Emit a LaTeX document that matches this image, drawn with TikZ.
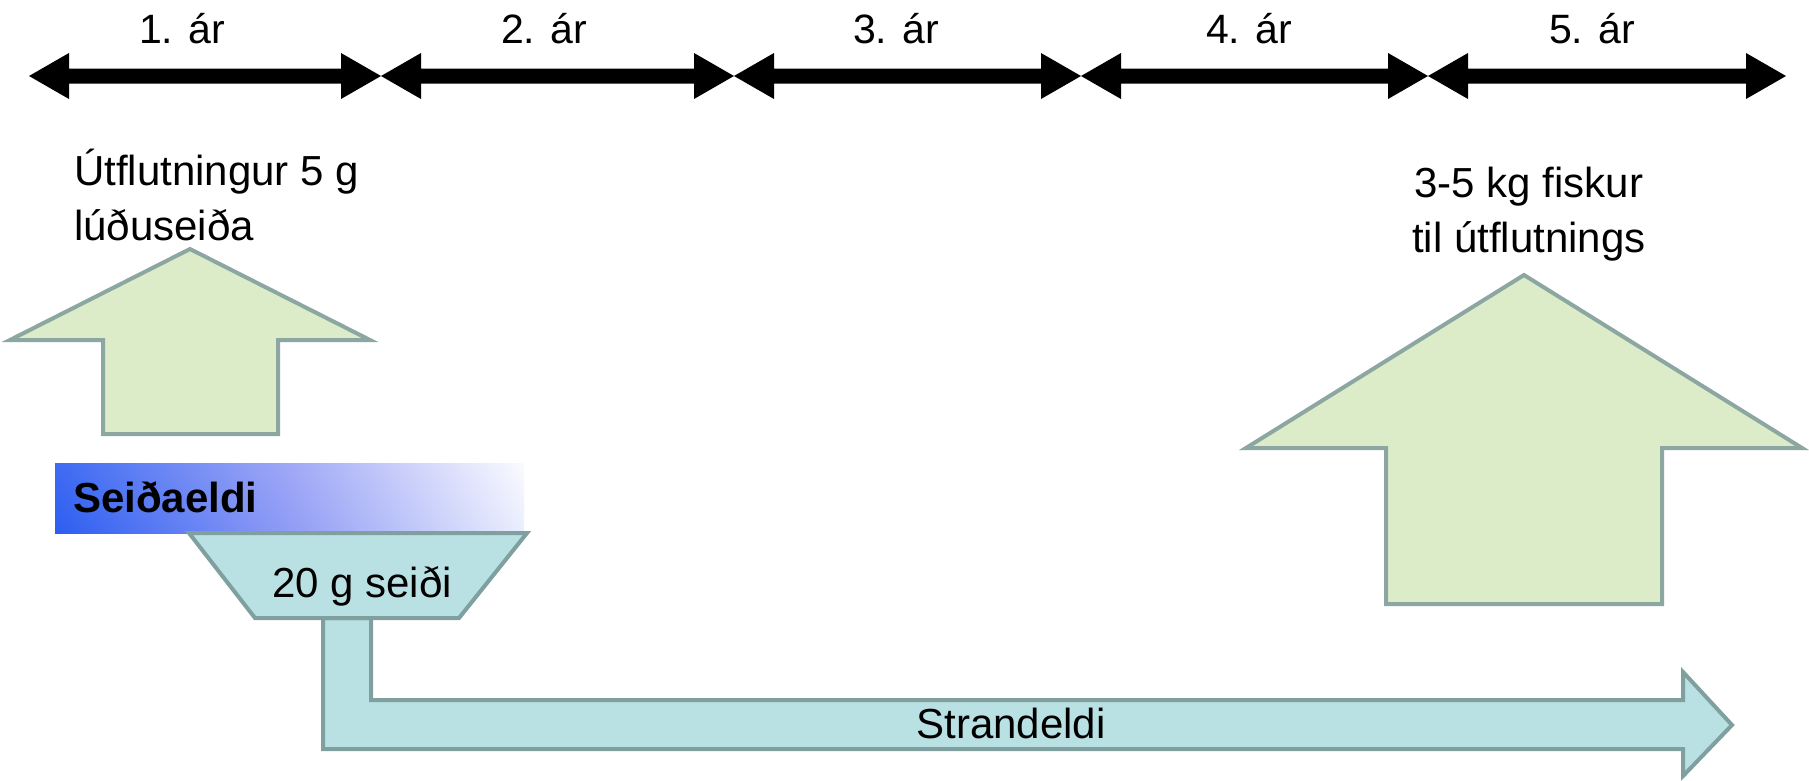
\documentclass[tikz,border=0pt]{standalone}
\usepackage{fontspec}
\setmainfont{Liberation Sans}
\definecolor{grfill}{RGB}{221,236,200}
\definecolor{grline}{RGB}{140,166,162}
\definecolor{tlfill}{RGB}{185,224,226}
\definecolor{tlline}{RGB}{128,160,160}
\definecolor{barblue}{RGB}{20,75,240}
\definecolor{barmid}{RGB}{140,150,245}
\definecolor{barlight}{RGB}{250,250,255}
\tikzset{
  lbl/.style={inner sep=0pt, font=\fontsize{42}{55}\selectfont},
  yearlbl/.style={inner sep=0pt, anchor=base, font=\fontsize{41}{48}\selectfont},
  greenarrow/.style={fill=grfill, draw=grline, line width=4pt, line join=miter},
  tealshape/.style={fill=tlfill, draw=tlline, line width=4pt, line join=miter},
}
\begin{document}
\begin{tikzpicture}[x=1pt,y=-1pt]
\useasboundingbox (0,0) rectangle (1809,780);
\fill[white] (0,0) rectangle (1809,780);

% timeline
\foreach \a/\b in {29/381, 381/734, 734/1081, 1081/1428, 1428/1786} {
  \fill[black] (\a,76) -- ({\a+40},53) -- ({\a+40},68.5) -- ({\b-40},68.5) -- ({\b-40},53)
    -- (\b,76) -- ({\b-40},99) -- ({\b-40},83.5) -- ({\a+40},83.5) -- ({\a+40},99) -- cycle;
}
\node[yearlbl] (y1) at (182,43) {1. ár};
\node[yearlbl] (y2) at (544,43) {2. ár};
\node[yearlbl] (y3) at (896,43) {3. ár};
\node[yearlbl] (y4) at (1249,43) {4. ár};
\node[yearlbl] (y5) at (1592,43) {5. ár};

% small export arrow
\filldraw[greenarrow] (190,249) -- (370,340) -- (278,340) -- (278,434) -- (103,434)
  -- (103,340) -- (10,340) -- cycle;
\node[lbl, anchor=base west, align=left] (exp1) at (74,240) {Útflutningur 5 g\\lúðuseiða};

% big export arrow
\filldraw[greenarrow] (1524,275) -- (1802,448) -- (1662,448) -- (1662,604) -- (1386,604)
  -- (1386,448) -- (1246,448) -- cycle;
\node[lbl, anchor=base, align=center] (exp2) at (1529,252) {3-5 kg fiskur\\til útflutnings};

% bent arrow (Strandeldi)
\filldraw[tealshape] (323,618) -- (371,618) -- (371,700) -- (1683,700) -- (1683,672)
  -- (1732,725) -- (1683,776) -- (1683,749) -- (323,749) -- cycle;
\node[lbl, anchor=base] (strand) at (1011,738) {Strandeldi};

% Seidaeldi bar
\shade[left color=barblue, right color=barlight, middle color=barmid] (55,463) rectangle (524,533);
\shade[top color=white, bottom color=barblue!40!white, opacity=0.18] (55,463) rectangle (524,533);
\node[inner sep=0pt, anchor=base west, font=\bfseries\fontsize{42}{48}\selectfont] (seid) at (73,512) {Seiðaeldi};

% trapezoid
\filldraw[tealshape] (189,533) -- (527,533) -- (459,618) -- (255,618) -- cycle;
\node[lbl, anchor=base] (seidi) at (362,597) {20 g seiði};
\end{tikzpicture}
\end{document}
